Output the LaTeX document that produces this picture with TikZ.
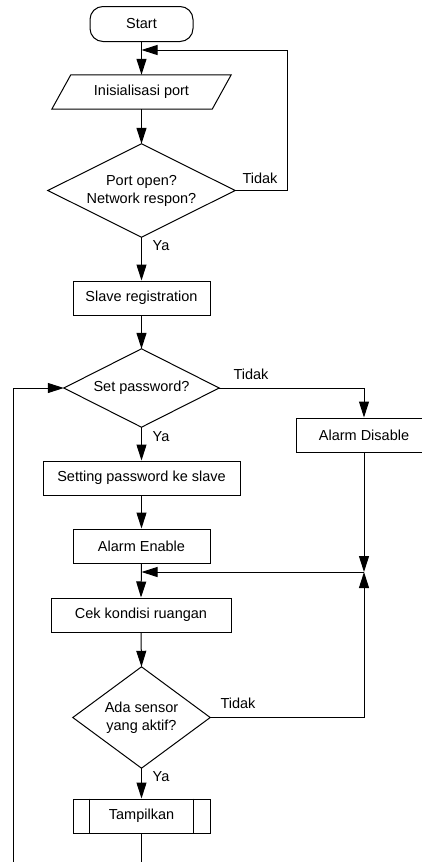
\documentclass[tikz,border=0pt]{standalone}
\usepackage{fontspec}
\setmainfont{Liberation Sans}
\usetikzlibrary{arrows.meta,calc}
\begin{document}
\begin{tikzpicture}[x=1pt,y=-1pt,
  every node/.style={font=\fontsize{14.5}{17}\selectfont, inner sep=0pt},
  line/.style={line width=1pt, draw=black},
  arr/.style={line, -{Triangle[length=16pt,width=10pt]}},
  box/.style={draw, line width=1pt, rectangle, minimum height=34pt, align=center},
  shapeholder/.style={rectangle, align=center},
  lbl/.style={anchor=center}]
\clip (0,0) rectangle (422,862);
\useasboundingbox (0,0) rectangle (422,862);
\fill[white] (0,0) rectangle (422,862);

% nodes
\node[draw, line width=1pt, rounded corners=13pt, minimum width=103pt, minimum height=35pt] (start) at (141.5,24) {Start};
\node[shapeholder, minimum width=160pt, minimum height=34pt] (init) at (141.5,92) {Inisialisasi port};
\draw[line] ($(init.north west)+(9.5,0)$) -- ($(init.north east)+(9.5,0)$) -- ($(init.south east)+(-9.5,0)$) -- ($(init.south west)+(-9.5,0)$) -- cycle;
\node[shapeholder, minimum width=187pt, minimum height=93pt] (d1) at (141.5,190.5) {Port open?\\[1pt]Network respon?};
\draw[line] (d1.north) -- (d1.east) -- (d1.south) -- (d1.west) -- cycle;
\node[box, minimum width=137pt] (slave) at (141.5,298) {Slave registration};
\node[shapeholder, minimum width=155pt, minimum height=78pt] (d2) at (141.5,388) {Set password?};
\draw[line] (d2.north) -- (d2.east) -- (d2.south) -- (d2.west) -- cycle;
\node[box, minimum width=197pt] (setpw) at (141.5,478) {Setting password ke slave};
\node[box, minimum width=137pt] (alen) at (141.5,546) {Alarm Enable};
\node[box, minimum width=180pt] (cek) at (141,615) {Cek kondisi ruangan};
\node[shapeholder, minimum width=137pt, minimum height=101pt] (d3) at (141.5,717.5) {Ada sensor\\[1pt]yang aktif?};
\draw[line] (d3.north) -- (d3.east) -- (d3.south) -- (d3.west) -- cycle;
\node[box, minimum width=137pt] (tamp) at (141.5,816) {Tampilkan};
\draw[line] ($(tamp.north west)+(17,0)$) -- ($(tamp.south west)+(17,0)$);
\draw[line] ($(tamp.north east)+(-17,0)$) -- ($(tamp.south east)+(-17,0)$);
\node[box, minimum width=136pt] (aldis) at (364,435) {Alarm Disable};

% coordinates
\coordinate (j1) at (141.5,50);
\coordinate (r1) at (287,50);
\coordinate (r1b) at (287,190.5);
\coordinate (j2) at (364,572);
\coordinate (j2L) at (141.5,572);
\coordinate (d2r) at (364,388);
\coordinate (d3r) at (364,717.5);
\coordinate (bot) at (141.5,870);
\coordinate (lb) at (13,870);
\coordinate (lt) at (13,388);

% connectors
\draw[arr] (start.south) -- (init.north);
\draw[arr] (d1.east) -- (r1b) -- (r1) -- (j1);
\draw[arr] (init.south) -- (d1.north);
\draw[arr] (d1.south) -- (slave.north);
\draw[arr] (slave.south) -- (d2.north);
\draw[arr] (d2.east) -- (d2r) -- (aldis.north);
\draw[arr] (d2.south) -- (setpw.north);
\draw[arr] (setpw.south) -- (alen.north);
\draw[arr] (alen.south) -- (cek.north);
\draw[arr] (aldis.south) -- (j2);
\draw[arr] (d3.east) -- (d3r) -- (j2);
\draw[arr] (j2) -- (j2L);
\draw[arr] (cek.south) -- (d3.north);
\draw[arr] (d3.south) -- (tamp.north);
\draw[line] (tamp.south) -- (bot);
\draw[arr] (lb) -- (lt) -- (d2.west);

% labels
\node[lbl] at (260,178) {Tidak};
\node[lbl] at (161,246) {Ya};
\node[lbl] at (251,374) {Tidak};
\node[lbl] at (161,437) {Ya};
\node[lbl] at (238,703) {Tidak};
\node[lbl] at (161,777) {Ya};
\end{tikzpicture}
\end{document}
